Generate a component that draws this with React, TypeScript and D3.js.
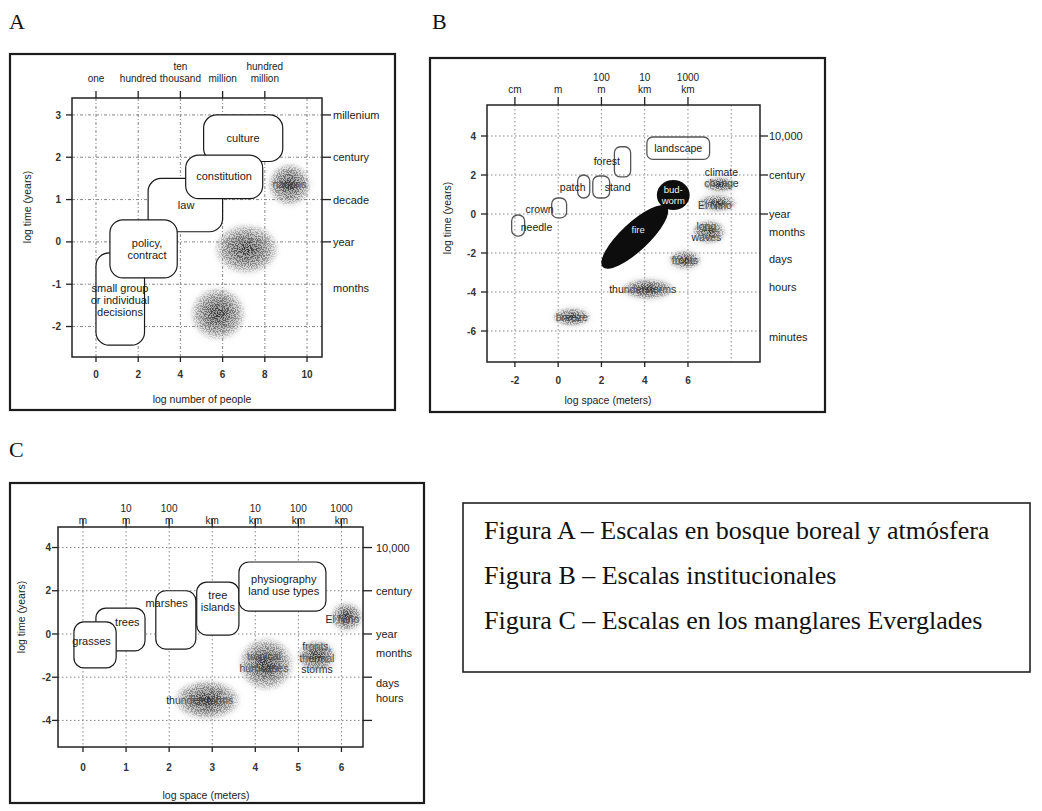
import React from "react";
import * as d3 from "d3";

const SANS = "'Liberation Sans', Arial, Helvetica, sans-serif";
const SERIF = "'Liberation Serif', 'Times New Roman', Times, serif";

// ---------------- Panel A : institutions ----------------
const aXTicks = [0, 2, 4, 6, 8, 10];
const aYTicks = [3, 2, 1, 0, -1, -2];
const aTopTicks = [0, 2, 4, 6, 8];
const aTopLabels = [["one"], ["hundred"], ["ten", "thousand"], ["million"], ["hundred", "million"]];
const aRightTicks = [3, 2, 1, 0];
const aRightValues = [3, 2, 1, 0, -1.1];
const aRightLabels = ["millenium", "century", "decade", "year", "months"];
const aBoxes = [
  { lines: ["culture"], x: [5.1, 8.85], y: [1.9, 3.0], lx: 6.97, ly: 2.45 },
  { lines: ["small group", "or individual", "decisions"], x: [0, 2.3], y: [-2.44, -0.26], lx: 1.14, ly: -1.37 },
  { lines: ["law"], x: [2.47, 6.0], y: [0.24, 1.5], lx: 4.27, ly: 0.87 },
  { lines: ["constitution"], x: [4.25, 7.9], y: [1.02, 2.05], lx: 6.07, ly: 1.55 },
  { lines: ["policy,", "contract"], x: [0.66, 3.85], y: [-0.85, 0.52], lx: 2.42, ly: -0.17 },
];
const aBlobs = [
  { lines: ["nations"], cx: 9.17, cy: 1.35, rx: 1.05, ry: 0.52 },
  { lines: [], cx: 7.13, cy: -0.17, rx: 1.57, ry: 0.61 },
  { lines: [], cx: 5.78, cy: -1.7, rx: 1.35, ry: 0.65 },
];

// ---------------- Panel B : boreal forest & atmosphere ----------------
const bXTicks = [-2, 0, 2, 4, 6];
const bGridX = [-2, 0, 2, 4, 6, 8];
const bYTicks = [4, 2, 0, -2, -4, -6];
const bTopTicks = [-2, 0, 2, 4, 6];
const bTopLabels = [["cm"], ["m"], ["100", "m"], ["10", "km"], ["1000", "km"]];
const bRightTicks = [4, 2, 0];
const bRightValues = [4, 2, 0, -0.92, -2.31, -3.74, -6.3];
const bRightLabels = ["10,000", "century", "year", "months", "days", "hours", "minutes"];
const bBoxes = [
  { lines: ["landscape"], x: [4.1, 7.0], y: [2.8, 3.95], lx: 5.55, ly: 3.38 },
  { lines: ["forest"], x: [2.6, 3.35], y: [1.9, 3.45], lx: 2.25, ly: 2.72 },
  { lines: ["patch"], x: [0.9, 1.46], y: [0.82, 2.0], lx: 0.67, ly: 1.38 },
  { lines: ["stand"], x: [1.6, 2.38], y: [0.82, 1.95], lx: 2.75, ly: 1.38 },
  { lines: ["crown"], x: [-0.3, 0.39], y: [-0.2, 0.82], lx: -0.86, ly: 0.26 },
  { lines: ["needle"], x: [-2.15, -1.55], y: [-1.13, -0.05], lx: -1.0, ly: -0.67 },
];
const bBlobs = [
  { lines: ["climate", "change"], cx: 7.48, cy: 1.51, rx: 0.8, ry: 0.4, lx: 7.55, ly: 1.85 },
  { lines: ["El Niño"], cx: 7.34, cy: 0.56, rx: 0.95, ry: 0.45, lx: 7.25, ly: 0.46 },
  { lines: ["long", "waves"], cx: 6.97, cy: -0.92, rx: 0.81, ry: 0.64, lx: 6.85, ly: -0.92 },
  { lines: ["fronts"], cx: 5.86, cy: -2.36, rx: 0.79, ry: 0.51, lx: 5.86, ly: -2.36 },
  { lines: ["thunderstorms"], cx: 4.15, cy: -3.85, rx: 1.3, ry: 0.56, lx: 3.91, ly: -3.85 },
  { lines: ["breeze"], cx: 0.63, cy: -5.28, rx: 0.93, ry: 0.49, lx: 0.63, ly: -5.28 },
];
// fire: elongated black ellipse between two points; budworm: black round patch
const bFire = { from: [2.06, -2.72], to: [5.02, 0.36], label: "fire", lx: 3.7, ly: -0.8 };
const bBudworm = { cx: 5.32, cy: 0.97, rx: 0.76, ry: 0.77, lines: ["bud-", "worm"] };

// ---------------- Panel C : Everglades ----------------
const cXTicks = [0, 1, 2, 3, 4, 5, 6];
const cYTicks = [4, 2, 0, -2, -4];
const cTopTicks = [0, 1, 2, 3, 4, 5, 6];
const cTopLabels = [["m"], ["10", "m"], ["100", "m"], ["km"], ["10", "km"], ["100", "km"], ["1000", "km"]];
const cRightTicks = [4, 2, 0, -2, -4];
const cRightValues = [4, 2, 0, -0.88, -2.27, -2.96];
const cRightLabels = ["10,000", "century", "year", "months", "days", "hours"];
const cBoxes = [
  { lines: ["trees"], x: [0.3, 1.44], y: [-0.78, 1.2], lx: 1.03, ly: 0.56 },
  { lines: ["grasses"], x: [-0.21, 0.77], y: [-1.57, 0.56], lx: 0.2, ly: -0.32 },
  { lines: ["marshes"], x: [1.69, 2.62], y: [-0.7, 2.0], lx: 1.94, ly: 1.43 },
  { lines: ["tree", "islands"], x: [2.64, 3.62], y: [-0.05, 2.4], lx: 3.13, ly: 1.53 },
  { lines: ["physiography", "land use types"], x: [3.62, 5.64], y: [1.06, 3.33], lx: 4.66, ly: 2.27 },
];
const cBlobs = [
  { lines: ["El Niño"], cx: 6.12, cy: 0.79, rx: 0.39, ry: 0.69, lx: 6.02, ly: 0.68 },
  { lines: ["tropical", "hurricanes"], cx: 4.25, cy: -1.39, rx: 0.66, ry: 1.27, lx: 4.2, ly: -1.32 },
  { lines: ["fronts,", "thermal", "storms"], cx: 5.43, cy: -1.02, rx: 0.46, ry: 0.76, lx: 5.43, ly: -1.12 },
  { lines: ["thunderstorms"], cx: 2.88, cy: -3.05, rx: 0.8, ry: 0.95, lx: 2.71, ly: -3.06 },
];

// ---------------- caption ----------------
const captionLines = [
  "Figura A – Escalas en bosque boreal y atmósfera",
  "Figura B – Escalas institucionales",
  "Figura C – Escalas en los manglares Everglades",
];

const panels = [
  {
    id: "A",
    letter: "A", letterPos: [9, 29],
    frame: [10, 54, 385, 356],
    plot: { l: 72, r: 322, t: 98, b: 357 },
    xDom: [-1.137, 10.71], yDom: [-2.72, 3.4],
    gridX: aXTicks, gridY: aYTicks, xTicks: aXTicks, yTicks: aYTicks,
    topTicks: aTopTicks, topLabels: aTopLabels, topBase: 81.5, topTickLen: 7,
    rightTicks: aRightTicks, rightValues: aRightValues, rightLabels: aRightLabels,
    rightTickLen: 9, rightLabelX: 333,
    xLabelGap: 21, yLabelGap: 11,
    xTitle: "log number of people", xTitlePos: [202, 403],
    yTitle: "log time (years)", yTitlePos: [31, 207],
    boxes: aBoxes, boxRadius: 13, boxFill: "#fff", boxStroke: "#1a1a1a", boxTextOutside: false,
    blobs: aBlobs, dash: "3,2,1,2", boxFont: 11,
  },
  {
    id: "B",
    letter: "B", letterPos: [432, 29],
    frame: [430, 58, 395, 354],
    plot: { l: 487, r: 760, t: 105, b: 362 },
    xDom: [-3.29, 9.33], yDom: [-7.59, 5.59],
    gridX: bGridX, gridY: bYTicks, xTicks: bXTicks, yTicks: bYTicks,
    topTicks: bTopTicks, topLabels: bTopLabels, topBase: 93, topTickLen: 8,
    rightTicks: bRightTicks, rightValues: bRightValues, rightLabels: bRightLabels,
    rightTickLen: 8, rightLabelX: 769,
    xLabelGap: 22, yLabelGap: 11,
    xTitle: "log space (meters)", xTitlePos: [608, 404],
    yTitle: "log time (years)", yTitlePos: [451, 218],
    boxes: bBoxes, boxRadius: 6, boxFill: "none", boxStroke: "#555", boxTextOutside: true,
    blobs: bBlobs, dash: "1.5,2.5", boxFont: 10.5,
  },
  {
    id: "C",
    letter: "C", letterPos: [9, 457],
    frame: [10, 483, 414, 320],
    plot: { l: 58, r: 363, t: 527, b: 747 },
    xDom: [-0.58, 6.5], yDom: [-5.23, 4.95],
    gridX: cXTicks, gridY: cYTicks, xTicks: cXTicks, yTicks: cYTicks,
    topTicks: cTopTicks, topLabels: cTopLabels, topBase: 524, topTickLen: 8,
    rightTicks: cRightTicks, rightValues: cRightValues, rightLabels: cRightLabels,
    rightTickLen: 9, rightLabelX: 376,
    xLabelGap: 24, yLabelGap: 7,
    xTitle: "log space (meters)", xTitlePos: [206, 799],
    yTitle: "log time (years)", yTitlePos: [25, 617],
    boxes: cBoxes, boxRadius: 10, boxFill: "#fff", boxStroke: "#1a1a1a", boxTextOutside: false,
    blobs: cBlobs, dash: "1.5,2.5", boxFont: 11,
  },
];

function MultiText({ x, y, lines, size, fill = "#1a1a1a", lh = 12, weight = "normal" }: any) {
  const off = ((lines.length - 1) * lh) / 2;
  return (
    <text x={x} textAnchor="middle" fontFamily={SANS} fontSize={size} fill={fill} fontWeight={weight}>
      {lines.map((s: string, i: number) => (
        <tspan key={i} x={x} y={y - off + i * lh + size * 0.35}>{s}</tspan>
      ))}
    </text>
  );
}

function Panel({ p }: { p: any }) {
  const x = d3.scaleLinear().domain(p.xDom).range([p.plot.l, p.plot.r]);
  const y = d3.scaleLinear().domain(p.yDom).range([p.plot.b, p.plot.t]);
  const { l, r, t, b } = p.plot;
  const clipId = `clip-${p.id}`;
  const [fx, fy, fw, fh] = p.frame;
  const fire = p.id === "B" ? bFire : null;
  const bud = p.id === "B" ? bBudworm : null;
  let fireEl: any = null;
  if (fire) {
    const x1 = x(fire.from[0]), y1 = y(fire.from[1]);
    const x2 = x(fire.to[0]), y2 = y(fire.to[1]);
    const cx = (x1 + x2) / 2, cy = (y1 + y2) / 2;
    const len = Math.hypot(x2 - x1, y2 - y1);
    const ang = (Math.atan2(y2 - y1, x2 - x1) * 180) / Math.PI;
    fireEl = (
      <g>
        <ellipse cx={cx} cy={cy} rx={len / 2} ry={14} transform={`rotate(${ang} ${cx} ${cy})`} fill="#0d0d0d" />
        <ellipse cx={x(bud!.cx)} cy={y(bud!.cy)} rx={x(bud!.cx + bud!.rx) - x(bud!.cx)} ry={y(bud!.cy) - y(bud!.cy + bud!.ry)} fill="#0d0d0d" />
        <MultiText x={x(fire.lx)} y={y(fire.ly)} lines={[fire.label]} size={9.5} fill="#e8e8e8" />
        <MultiText x={x(bud!.cx)} y={y(bud!.cy)} lines={bud!.lines} size={9.5} fill="#f4f4f4" lh={11} />
      </g>
    );
  }
  return (
    <g>
      <rect x={fx} y={fy} width={fw} height={fh} fill="#fff" stroke="#1c1c1c" strokeWidth={2.2} />
      <text x={p.letterPos[0]} y={p.letterPos[1]} fontFamily={SERIF} fontSize={22} fill="#111">{p.letter}</text>
      <clipPath id={clipId}><rect x={l} y={t} width={r - l} height={b - t} /></clipPath>
      <g clipPath={`url(#${clipId})`}>
        {p.gridX.map((v: number) => (
          <line key={"gx" + v} x1={x(v)} x2={x(v)} y1={t} y2={b} stroke="#7a7a7a" strokeWidth={0.9} strokeDasharray={p.dash} />
        ))}
        {p.gridY.map((v: number) => (
          <line key={"gy" + v} x1={l} x2={r} y1={y(v)} y2={y(v)} stroke="#7a7a7a" strokeWidth={0.9} strokeDasharray={p.dash} />
        ))}
        {p.boxes.map((bx: any, i: number) => (
          <g key={"bx" + i}>
            <rect x={x(bx.x[0])} y={y(bx.y[1])} width={x(bx.x[1]) - x(bx.x[0])} height={y(bx.y[0]) - y(bx.y[1])}
              rx={p.boxRadius} fill={p.boxFill} stroke={p.boxStroke} strokeWidth={p.id === "B" ? 1.3 : 1.2} />
            {!p.boxTextOutside && <MultiText x={x(bx.lx)} y={y(bx.ly)} lines={bx.lines} size={p.boxFont} />}
          </g>
        ))}
        {p.boxTextOutside && p.boxes.map((bx: any, i: number) => (
          <MultiText key={"bt" + i} x={x(bx.lx)} y={y(bx.ly)} lines={bx.lines} size={p.boxFont} />
        ))}
        {p.blobs.map((bl: any, i: number) => (
          <g key={"bl" + i}>
            {bl.lines.length > 0 && (
              <MultiText x={x(bl.lx ?? bl.cx)} y={y(bl.ly ?? bl.cy)} lines={bl.lines} size={10.5} fill="#222" lh={11.5} />
            )}
            <ellipse cx={x(bl.cx)} cy={y(bl.cy)} rx={x(bl.cx + bl.rx) - x(bl.cx)} ry={y(bl.cy) - y(bl.cy + bl.ry)}
              fill="url(#blobGrad)" filter="url(#stipple)" />
          </g>
        ))}
        {fireEl}
      </g>
      <rect x={l} y={t} width={r - l} height={b - t} fill="none" stroke="#222" strokeWidth={1.5} />
      {/* left ticks */}
      {p.yTicks.map((v: number) => (
        <g key={"yt" + v}>
          <line x1={l - 6} x2={l} y1={y(v)} y2={y(v)} stroke="#222" strokeWidth={1.3} />
          <text x={l - p.yLabelGap} y={y(v) + 3.6} textAnchor="end" fontFamily={SANS} fontSize={10} fontWeight="bold" fill="#333">{v}</text>
        </g>
      ))}
      {/* bottom ticks */}
      {p.xTicks.map((v: number) => (
        <g key={"xt" + v}>
          <line x1={x(v)} x2={x(v)} y1={b} y2={b + 5} stroke="#222" strokeWidth={1.3} />
          <text x={x(v)} y={b + p.xLabelGap} textAnchor="middle" fontFamily={SANS} fontSize={10} fontWeight="bold" fill="#333">{v}</text>
        </g>
      ))}
      {/* top ticks with unit labels */}
      {p.topTicks.map((v: number, i: number) => {
        const lines = p.topLabels[i];
        return (
          <g key={"tt" + v}>
            <line x1={x(v)} x2={x(v)} y1={t - p.topTickLen} y2={t} stroke="#222" strokeWidth={1.3} />
            {lines.map((s: string, j: number) => (
              <text key={j} x={x(v)} y={p.topBase - (lines.length - 1 - j) * 12} textAnchor="middle" fontFamily={SANS} fontSize={10} fill="#222">{s}</text>
            ))}
          </g>
        );
      })}
      {/* right ticks and time labels */}
      {p.rightTicks.map((v: number) => (
        <line key={"rt" + v} x1={r} x2={r + p.rightTickLen} y1={y(v)} y2={y(v)} stroke="#222" strokeWidth={1.3} />
      ))}
      {p.rightValues.map((v: number, i: number) => (
        <text key={"rl" + i} x={p.rightLabelX} y={y(v) + 4} fontFamily={SANS} fontSize={11} fill="#222">{p.rightLabels[i]}</text>
      ))}
      <text x={p.xTitlePos[0]} y={p.xTitlePos[1]} textAnchor="middle" fontFamily={SANS} fontSize={10.5} fill="#222">{p.xTitle}</text>
      <text transform={`translate(${p.yTitlePos[0]},${p.yTitlePos[1]}) rotate(-90)`} textAnchor="middle" fontFamily={SANS} fontSize={10.5} fill="#222">{p.yTitle}</text>
    </g>
  );
}

export default function App() {
  return (
    <svg width={1042} height={811} viewBox="0 0 1042 811" style={{ position: "absolute", left: 0, top: 0, background: "#fff" }}>
      <defs>
        <radialGradient id="blobGrad" cx="50%" cy="50%" r="50%">
          <stop offset="0%" stopColor="#2a2a2a" stopOpacity={1} />
          <stop offset="35%" stopColor="#555" stopOpacity={0.95} />
          <stop offset="70%" stopColor="#888" stopOpacity={0.8} />
          <stop offset="100%" stopColor="#aaa" stopOpacity={0} />
        </radialGradient>
        <filter id="stipple" x="-30%" y="-30%" width="160%" height="160%" colorInterpolationFilters="sRGB">
          <feTurbulence type="fractalNoise" baseFrequency="0.85" numOctaves={2} seed={7} result="noise" />
          <feColorMatrix in="noise" type="matrix" values="0 0 0 0 0  0 0 0 0 0  0 0 0 0 0  9 0 0 0 -4.1" result="mask" />
          <feComposite in="SourceGraphic" in2="mask" operator="in" result="dots" />
          <feGaussianBlur in="SourceGraphic" stdDeviation="3" result="soft" />
          <feComponentTransfer in="soft" result="soft2">
            <feFuncA type="linear" slope={0.5} />
          </feComponentTransfer>
          <feMerge>
            <feMergeNode in="soft2" />
            <feMergeNode in="dots" />
          </feMerge>
        </filter>
      </defs>
      <rect x={0} y={0} width={1042} height={811} fill="#fff" />
      {panels.map((p) => (
        <Panel key={p.id} p={p} />
      ))}
      <rect x={463} y={503} width={567} height={169} fill="#fff" stroke="#222" strokeWidth={1.6} />
      {captionLines.map((s, i) => (
        <text key={i} x={484} y={539 + i * 45} fontFamily={SERIF} fontSize={26} fill="#111">{s}</text>
      ))}
    </svg>
  );
}
